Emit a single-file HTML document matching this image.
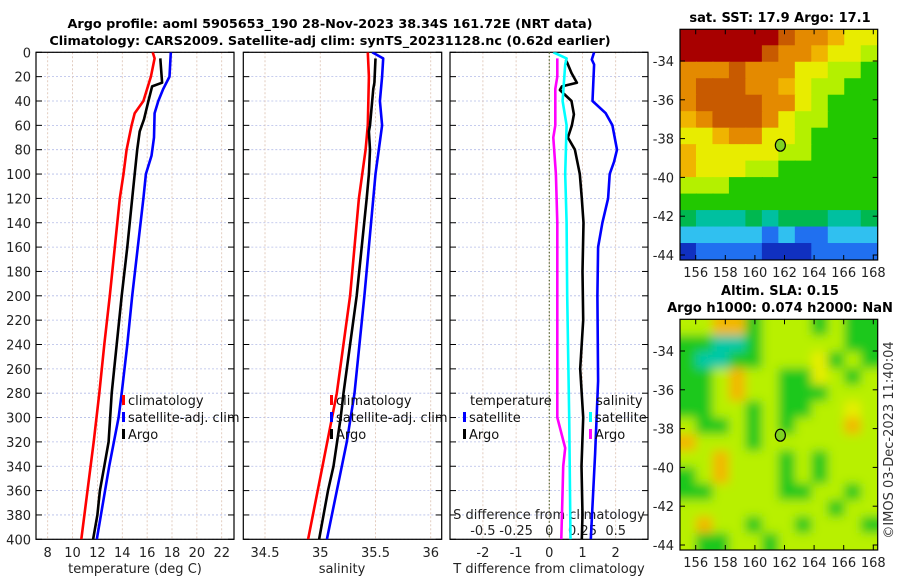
<!DOCTYPE html>
<html><head><meta charset="utf-8"><style>
body{margin:0;background:#fff}
svg{display:block;font-family:"DejaVu Sans","Liberation Sans",sans-serif}
</style></head><body>
<svg id="chart" width="900" height="580" viewBox="0 0 900 580" xmlns="http://www.w3.org/2000/svg">
<defs>
<clipPath id="c1"><rect x="36" y="52.3" width="198" height="487"/></clipPath>
<clipPath id="c2"><rect x="243.3" y="52.3" width="198.4" height="487"/></clipPath>
<clipPath id="c3"><rect x="450" y="52.3" width="198" height="487"/></clipPath>
<clipPath id="cm1"><rect x="680" y="29.3" width="197.7" height="230.7"/></clipPath>
<clipPath id="cm2"><rect x="680" y="319.3" width="197.7" height="230.7"/></clipPath>
<filter id="blur" filterUnits="userSpaceOnUse" x="650" y="290" width="260" height="290"><feGaussianBlur stdDeviation="5"/></filter>
</defs>
<text x="330" y="28" text-anchor="middle" font-size="12.8" font-weight="bold">Argo profile: aoml 5905653_190 28-Nov-2023 38.34S 161.72E (NRT data)</text>
<text x="330" y="45" text-anchor="middle" font-size="12.8" font-weight="bold">Climatology: CARS2009. Satellite-adj clim: synTS_20231128.nc (0.62d earlier)</text>
<g id="g"></g>
<text x="780" y="22" text-anchor="middle" font-size="13" font-weight="bold">sat. SST: 17.9 Argo: 17.1</text>
<text x="780" y="295" text-anchor="middle" font-size="13" font-weight="bold">Altim. SLA: 0.15</text>
<text x="780" y="312" text-anchor="middle" font-size="13" font-weight="bold">Argo h1000: 0.074 h2000: NaN</text>
<text x="0" y="0" transform="translate(893,440) rotate(-90)" text-anchor="middle" font-size="13" fill="#333">©IMOS 03-Dec-2023 11:40:04</text>
</svg>
<script>
// ---- data ----
const depthTicks=[0,20,40,60,80,100,120,140,160,180,200,220,240,260,280,300,320,340,360,380,400];
const tempTicks=[8,10,12,14,16,18,20,22];
const salTicks=[34.5,35,35.5,36];
const salTickLabels=["34.5","35","35.5","36"];
const tdTicks=[-2,-1,0,1,2];
const sdTicks=[-0.5,-0.25,0,0.25,0.5];
const sdTickLabels=["-0.5","-0.25","0","0.25","0.5"];

const climTDepth=[0,5,20,40,50,60,80,100,120,160,200,240,280,320,360,400];
const climT=[16.45,16.6,16.3,15.7,15.0,14.75,14.35,14.1,13.8,13.4,13.0,12.55,12.15,11.7,11.2,10.7];
const satTDepth=[0,20,30,40,50,70,85,100,120,160,200,240,280,300,340,400];
const satT=[17.9,17.8,17.3,16.9,16.6,16.55,16.35,15.9,15.7,15.25,14.8,14.4,13.95,13.7,12.95,11.95];
const argoTDepth=[5,25,28,40,55,65,80,100,120,160,200,240,280,320,340,360,380,400];
const argoT=[17.06,17.2,16.4,16.1,15.75,15.4,15.2,15.0,14.8,14.4,13.95,13.55,13.15,12.9,12.55,12.2,12.0,11.65];

const climSDepth=[0,20,60,80,120,200,280,340,400];
const climS=[35.43,35.44,35.43,35.41,35.35,35.27,35.15,35.02,34.89];
const satSDepth=[0,5,20,40,60,80,100,120,200,280,320,400];
const satS=[35.47,35.57,35.56,35.54,35.56,35.53,35.5,35.48,35.4,35.31,35.24,35.06];
const argoSDepth=[5,25,30,60,65,80,100,120,200,280,300,340,360,400];
const argoS=[35.50,35.49,35.48,35.45,35.44,35.45,35.44,35.42,35.33,35.21,35.185,35.12,35.07,34.99];

const satTdDepth=[0,6,10,40,50,60,80,90,100,120,140,160,200,270,330,400];
const satTd=[1.35,1.28,1.35,1.3,1.7,1.9,2.04,1.95,1.82,1.77,1.6,1.47,1.45,1.47,1.38,1.25];
const argoTdDepth=[6,17,25,28,31,40,51,60,70,80,100,120,140,180,220,260,300,340,380,400];
const argoTd=[0.5,0.67,0.83,0.38,0.32,0.67,0.74,0.68,0.56,0.77,0.92,0.98,1.03,1.0,1.02,0.93,1.02,0.97,1.0,0.98];
const satSdDepth=[0,5,10,40,60,80,100,140,200,300,400];
const satSd=[0.03,0.13,0.12,0.10,0.13,0.125,0.12,0.13,0.135,0.15,0.16];
const argoSdDepth=[5,20,30,60,70,100,140,200,285,300,325,340,360,400];
const argoSd=[0.06,0.06,0.045,0.045,0.03,0.05,0.06,0.06,0.06,0.06,0.12,0.105,0.1,0.09];

const latTicks=[-34,-36,-38,-40,-42,-44];
const lonTicks=[156,158,160,162,164,166,168];
const argoLon=161.72, argoLat=-38.34;
const sstGrid=["DDDDDDROOoYY","DDDDDROOoYYy","OOOROOOYYyyG","ORRROOoYyyGG","ORRRROOYyGGG","oORRROYyyGGG","YYoOOYYyGGGG","oYYYYYyyGGGG","oYYYyyGGGGGG","yyyGGGGGGGGG","GGGGGGGGGGGG","gTTTgTgggTTg","CCCCCBCBBCCC","NBBBBNNNBBBB"];
const slaGrid=["yyooGyyyGyGG","GGTTGyyyyyGG","GTTGGyyyYGyG","GGyoyyGGYyGy","GGyoyyGGGyyy","GGyyGyGGyyYy","yGGyGyGyyyoy","oyyyGyyyyyyy","yyoyyyGyGyyy","GyoyyyGyGyyy","GGyyyyGGyyGy","yyyyyyyyyGyy","yoyyGyyGyyyG","yGGyyGyyyyyy"];

// ---- helpers ----
const NS="http://www.w3.org/2000/svg";
const root=document.getElementById('g');
function mk(tag,attrs,parent){const e=document.createElementNS(NS,tag);for(const k in attrs)e.setAttribute(k,attrs[k]);(parent||root).appendChild(e);return e;}
const Y0=52.3,YS=(539.3-52.3)/400;
const yD=d=>Y0+d*YS;
const xT=t=>47.7+(t-8)*12.43;
const xS=s=>265+(s-34.5)*110.5;
const xTd=v=>549.3+v*33.2;
const xSd=v=>549.3+v*132.8;

function panel(x0,x1,name,clip,vgrid){
  for(const d of depthTicks){
    let l=mk('line',{x1:x0,x2:x1,y1:yD(d),y2:yD(d),stroke:'#b4bce8','stroke-width':0.8,'stroke-dasharray':'2,2'});
    
    
    mk('line',{x1:x0,x2:x0+6,y1:yD(d),y2:yD(d),stroke:'#000'});
    mk('line',{x1:x1-6,x2:x1,y1:yD(d),y2:yD(d),stroke:'#000'});
  }
  for(const x of vgrid){
    let l=mk('line',{x1:x,x2:x,y1:Y0,y2:539.3,stroke:'#dcc0b0','stroke-width':0.8,'stroke-dasharray':'2,2'});
    
    
  }
  let r=mk('rect',{x:x0,y:Y0,width:x1-x0,height:539.3-Y0,fill:'none',stroke:'#000','stroke-width':1.2});
  
  
}
function series(depths,vals,xf,color,clip,name){
  const pts=depths.map((d,i)=>xf(vals[i]).toFixed(1)+','+yD(d).toFixed(1)).join(' ');
  let p=mk('polyline',{points:pts,fill:'none',stroke:color,'stroke-width':2.6,'stroke-linejoin':'round','clip-path':'url(#'+clip+')'});
  
  
}
function txt(x,y,s,attrs,name){const t=mk('text',Object.assign({x:x,y:y,'font-size':13,fill:'#222'},attrs||{}));t.textContent=s;
  
  
  return t;}

// ---- panel 1: temperature ----
panel(36,234,'temperature-panel','c1',tempTicks.map(xT));
depthTicks.forEach(d=>txt(31,yD(d)+5,String(d),{'text-anchor':'end'},'depth-tick-label'));
tempTicks.forEach(t=>txt(xT(t),557,String(t),{'text-anchor':'middle'},'temperature-tick-label'));
txt(135,573,'temperature (deg C)',{'text-anchor':'middle'},'temperature-axis-title');
series(climTDepth,climT,xT,'#ff0000','c1','temperature-climatology-line');
series(satTDepth,satT,xT,'#0000ff','c1','temperature-satellite-line');
series(argoTDepth,argoT,xT,'#000000','c1','temperature-argo-line');

// ---- panel 2: salinity ----
panel(243.3,441.7,'salinity-panel','c2',salTicks.map(xS));
salTicks.forEach((s,i)=>txt(xS(s),557,salTickLabels[i],{'text-anchor':'middle'},'salinity-tick-label'));
txt(342,573,'salinity',{'text-anchor':'middle'},'salinity-axis-title');
series(climSDepth,climS,xS,'#ff0000','c2','salinity-climatology-line');
series(satSDepth,satS,xS,'#0000ff','c2','salinity-satellite-line');
series(argoSDepth,argoS,xS,'#000000','c2','salinity-argo-line');

// ---- panel 3: differences ----
panel(450,648,'difference-panel','c3',tdTicks.map(xTd));
let z=mk('line',{x1:xTd(0),x2:xTd(0),y1:Y0,y2:539.3,stroke:'#556633','stroke-width':1.2,'stroke-dasharray':'1.5,2'});


tdTicks.forEach(t=>txt(xTd(t),557,String(t),{'text-anchor':'middle'},'t-diff-tick-label'));
txt(549,573,'T difference from climatology',{'text-anchor':'middle'},'t-diff-axis-title');
sdTicks.forEach((s,i)=>txt(xSd(s),535,sdTickLabels[i],{'text-anchor':'middle'},'s-diff-tick-label'));
txt(549,519,'S difference from climatology',{'text-anchor':'middle'},'s-diff-axis-title');
series(satTdDepth,satTd,xTd,'#0000ff','c3','t-diff-satellite-line');
series(argoTdDepth,argoTd,xTd,'#000000','c3','t-diff-argo-line');
series(satSdDepth,satSd,xSd,'#00ffff','c3','s-diff-satellite-line');
series(argoSdDepth,argoSd,xSd,'#ff00ff','c3','s-diff-argo-line');

// ---- legends ----
function legend(x,y,color,label,name){
  let m=mk('rect',{x:x,y:y-10,width:3,height:10,fill:color});
  
  
  txt(x+6,y,label,{fill:'#111'},name+'-label');
}
legend(122,405,'#ff0000','climatology','legend-climatology');
legend(122,422,'#0000ff','satellite-adj. clim','legend-satellite');
legend(122,439,'#000000','Argo','legend-argo');
legend(330,405,'#ff0000','climatology','legend2-climatology');
legend(330,422,'#0000ff','satellite-adj. clim','legend2-satellite');
legend(330,439,'#000000','Argo','legend2-argo');
txt(470,405,'temperature',{fill:'#111'},'legend-temperature-heading');
legend(463,422,'#0000ff','satellite','legend-t-satellite');
legend(463,439,'#000000','Argo','legend-t-argo');
txt(596,405,'salinity',{fill:'#111'},'legend-salinity-heading');
legend(589,422,'#00ffff','satellite','legend-s-satellite');
legend(589,439,'#ff00ff','Argo','legend-s-argo');

// ---- maps ----
const colors={D:'#a80000',R:'#c85a00',O:'#e48a00',o:'#f0b400',Y:'#e8ec00',y:'#b4f000',G:'#22c800',g:'#00b850',T:'#00c0a0',C:'#30c0f0',B:'#2070f0',N:'#1030c0'};
const slaColors={G:'#1ec81e',y:'#b8f000',Y:'#e6ee00',o:'#f2b800',T:'#00c8a8'};
function map(top,grid,cols,clip,name,blur){
  const L=680,R=877.7,B=top+230.7;
  const lat2y=la=>top+31.7+(-34-la)*19.4;
  const lon2x=lo=>695.7+(lo-156)*14.8;
  const latTop=-34+31.7/19.4, latBot=-34-(230.7-31.7)/19.4;
  const lonL=156-(695.7-L)/14.8, lonR=156+(R-695.7)/14.8;
  const g=mk('g',{'clip-path':'url(#'+clip+')'});
  const inner=mk('g',blur?{filter:'url(#blur)'}:{},g);
  const nr=grid.length,nc=grid[0].length;
  const dlat=(latTop-latBot)/nr,dlon=(lonR-lonL)/nc;
  const pad=blur?14:0;
  grid.forEach((row,r)=>{[...row].forEach((ch,c)=>{
    let x=lon2x(lonL+c*dlon),y=lat2y(latTop-r*dlat);
    let x2=lon2x(lonL+(c+1)*dlon),y2=lat2y(latTop-(r+1)*dlat);
    if(c==0)x-=pad; if(c==nc-1)x2+=pad; if(r==0)y-=pad; if(r==nr-1)y2+=pad;
    let cell=mk('rect',{x:x-0.5,y:y-0.5,width:x2-x+1,height:y2-y+1,fill:cols[ch]},inner);
    
    
  });});
  let f=mk('rect',{x:L,y:top,width:R-L,height:230.7,fill:'none',stroke:'#000','stroke-width':1.2});
  
  
  latTicks.forEach(la=>{const y=lat2y(la);mk('line',{x1:L,x2:L+5,y1:y,y2:y,stroke:'#000'});mk('line',{x1:R-5,x2:R,y1:y,y2:y,stroke:'#000'});
    txt(L-6,y+5,String(la),{'text-anchor':'end'},name+'-lat-label');});
  lonTicks.forEach(lo=>{const x=lon2x(lo);mk('line',{x1:x,x2:x,y1:B-5,y2:B,stroke:'#000'});mk('line',{x1:x,x2:x,y1:top,y2:top+5,stroke:'#000'});
    txt(x,B+17,String(lo),{'text-anchor':'middle'},name+'-lon-label');});
  let c=mk('ellipse',{cx:lon2x(argoLon),cy:lat2y(argoLat),rx:5,ry:6,fill:'#7ed321',stroke:'#000','stroke-width':1.2});
  
  
}
map(29.3,sstGrid,colors,'cm1','sst-map',false);
map(319.3,slaGrid,slaColors,'cm2','sla-map',true);
</script>
</body></html>
